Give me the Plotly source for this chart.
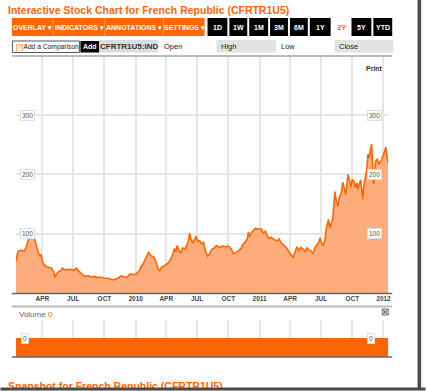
import plotly.graph_objects as go

W, H = 426, 391

# ---------------- data ----------------
dates = ['2009-01-13','2009-01-19','2009-01-27','2009-02-08','2009-02-14','2009-02-20','2009-03-01','2009-03-09',
 '2009-03-15','2009-03-24','2009-03-28','2009-04-02','2009-04-08','2009-04-14','2009-04-22','2009-04-28',
 '2009-05-04','2009-05-08','2009-05-13','2009-05-19','2009-05-25','2009-05-30','2009-06-05','2009-06-14',
 '2009-06-23','2009-07-02','2009-07-10','2009-07-19','2009-07-28','2009-08-06','2009-08-15','2009-08-23',
 '2009-09-01','2009-09-10','2009-09-19','2009-09-30','2009-10-12','2009-10-24','2009-11-02','2009-11-10',
 '2009-11-19','2009-11-28','2009-12-07','2009-12-15','2009-12-24','2010-01-02','2010-01-11','2010-01-17',
 '2010-01-22','2010-01-28','2010-02-03','2010-02-08','2010-02-12','2010-02-18','2010-02-24','2010-03-02',
 '2010-03-08','2010-03-13','2010-03-19','2010-03-25','2010-04-03','2010-04-09','2010-04-14','2010-04-20',
 '2010-04-25','2010-04-29','2010-05-03','2010-05-08','2010-05-14','2010-05-20','2010-05-26','2010-05-31',
 '2010-06-05','2010-06-09','2010-06-13','2010-06-18','2010-06-24','2010-06-28','2010-07-03','2010-07-08',
 '2010-07-14','2010-07-20','2010-07-26','2010-08-01','2010-08-07','2010-08-12','2010-08-18','2010-08-27',
 '2010-09-05','2010-09-14','2010-09-22','2010-10-01','2010-10-10','2010-10-16','2010-10-22','2010-10-31',
 '2010-11-08','2010-11-14','2010-11-20','2010-11-26','2010-11-29','2010-12-03','2010-12-08','2010-12-13',
 '2010-12-19','2010-12-28','2011-01-06','2011-01-12','2011-01-18','2011-01-24','2011-01-29','2011-02-04',
 '2011-02-13','2011-02-22','2011-02-28','2011-03-05','2011-03-14','2011-03-23','2011-03-29','2011-04-04',
 '2011-04-10','2011-04-16','2011-04-21','2011-04-27','2011-05-03','2011-05-09','2011-05-15','2011-05-21',
 '2011-05-27','2011-06-02','2011-06-08','2011-06-13','2011-06-19','2011-06-25','2011-06-28','2011-07-02',
 '2011-07-07','2011-07-13','2011-07-16','2011-07-20','2011-07-23','2011-07-27','2011-08-01','2011-08-05',
 '2011-08-08','2011-08-11','2011-08-15','2011-08-20','2011-08-23','2011-08-25','2011-08-30','2011-09-03',
 '2011-09-08','2011-09-12','2011-09-15','2011-09-18','2011-09-23','2011-09-27','2011-10-01','2011-10-06',
 '2011-10-10','2011-10-15','2011-10-17','2011-10-22','2011-10-26','2011-10-29','2011-11-01','2011-11-04',
 '2011-11-07','2011-11-10','2011-11-13','2011-11-16','2011-11-19','2011-11-23','2011-11-27','2011-11-30',
 '2011-12-03','2011-12-06','2011-12-09','2011-12-14','2011-12-18','2011-12-23','2011-12-27','2011-12-31',
 '2012-01-05','2012-01-08','2012-01-11','2012-01-13','2012-01-15']
prices = [53,70,72,71,80,93,94,92,
 78,62,65,51,47,44,43,42,
 36,27,32,36,38,42,39,40,
 40,38,42,36,31,28,29,27,
 28,26,27,25,25,22,24,25,
 29,27,27,32,31,32,37,45,
 48,55,62,69,64,62,60,52,
 40,38,44,45,49,52,57,65,
 75,70,80,72,68,76,74,82,
 87,101,90,84,92,96,87,88,
 83,85,70,62,66,73,75,80,
 77,79,78,79,74,66,68,71,
 76,83,86,92,103,95,102,106,
 109,108,108,101,104,96,92,94,
 90,88,91,85,80,75,69,64,
 60,70,78,72,77,74,70,76,
 72,71,66,76,82,86,93,85,
 80,90,107,118,124,110,120,126,
 150,171,155,146,158,162,170,187,
 176,166,180,200,190,178,192,188,
 178,186,175,185,191,175,158,180,
 191,195,210,234,228,240,251,215,
 183,205,222,226,217,222,225,232,
 240,246,232,222,220]

vol_dates = ['2009-01-13', '2012-01-15']
volume = [0, 0]
vol_floor = [-1, -1]

x_range = ['2009-01-13', '2012-01-15']
tick_vals = ['2009-04-01','2009-07-01','2009-10-01','2010-01-01','2010-04-01','2010-07-01',
             '2010-10-01','2011-01-01','2011-04-01','2011-07-01','2011-10-01','2012-01-01']
tick_text = ['APR','JUL','OCT','2010','APR','JUL','OCT','2011','APR','JUL','OCT','2012']
y_ticks = [100, 200, 300]

ORANGE = '#FF6600'
FILL = '#FDAC7B'
FONT = 'Liberation Sans'

def px(x): return x / W
def py(y): return 1 - y / H

shapes = []
annotations = []

def rect(x0, y0, x1, y1, fill, line=None, lw=0):
    shapes.append(dict(type='rect', xref='paper', yref='paper', x0=px(x0), x1=px(x1),
                       y0=py(y0), y1=py(y1), fillcolor=fill,
                       line=dict(color=line or fill, width=lw), layer='above'))

def line(x0, y0, x1, y1, color, w):
    shapes.append(dict(type='line', xref='paper', yref='paper', x0=px(x0), x1=px(x1),
                       y0=py(y0), y1=py(y1), line=dict(color=color, width=w), layer='above'))

def text(x, y, s, size, color, bold=False, xanchor='center', **kw):
    if bold:
        s = '<b>' + s + '</b>'
    annotations.append(dict(x=px(x), y=py(y), xref='paper', yref='paper', text=s, showarrow=False,
                            xanchor=xanchor, yanchor='middle',
                            font=dict(family=FONT, size=size, color=color), **kw))

# title
text(6, 10, 'Interactive Stock Chart for French Republic (CFRTR1U5)', 10.5, ORANGE, True, 'left')

# orange toolbar
rect(12, 18, 206, 36, ORANGE)
for sx in [53.5, 105.5, 164.5]:
    line(sx, 18, sx, 36, '#FF9A5C', 1)
for cx, lab in [(33, 'OVERLAY ▾'), (80, 'INDICATORS ▾'), (135, 'ANNOTATIONS ▾'), (185.5, 'SETTINGS ▾')]:
    text(cx, 27.5, lab, 7, 'white', True)

# range buttons
for x0, x1, lab in [(209, 229, '1D'), (231, 249, '1W'), (251, 270, '1M'), (272, 290, '3M'),
                    (292, 310, '6M'), (312, 333, '1Y'), (354, 374, '5Y'), (376, 395, 'YTD')]:
    rect(x0, 18, x1, 36, '#000000')
    text((x0 + x1) / 2, 27.5, lab, 7, 'white', True)
text(343.5, 27.5, '3Y', 7.5, ORANGE, True)

# second row
rect(12.5, 41, 80, 52.5, 'white', '#555555', 1)
text(14, 47, '<span style="color:#FF6600">[?]</span>Add a Comparison', 6.7, '#222222', False, 'left')
rect(81, 41, 100, 52.5, '#000000')
text(90.5, 47, 'Add', 7, 'white', True)
rect(100, 40, 159, 52.5, '#DCDCDC')
text(129.5, 46.5, 'CFRTR1U5:IND', 8, '#333333', True)
text(163, 46.5, 'Open', 7.5, '#222222', False, 'left')
rect(218, 40, 278, 52.5, '#E2E2E2')
text(221, 46.5, 'High', 7.5, '#222222', False, 'left')
text(281, 46.5, 'Low', 7.5, '#222222', False, 'left')
rect(337, 40, 396, 52.5, '#E2E2E2')
text(339, 46.5, 'Close', 7.5, '#222222', False, 'left')

# chart frame lines
line(12, 56, 395, 56, '#BBBBBB', 2)
line(12, 293.5, 395, 293.5, '#666666', 1.5)
line(12, 306.5, 395, 306.5, '#BBBBBB', 2)
line(12, 357, 395, 357, '#666666', 1.5)

text(377.5, 68, 'Print', 7, '#333333', True)

# y labels (boxed)
for v in y_ticks:
    for xx in [28, 377.5]:
        annotations.append(dict(x=px(xx), y=v, xref='paper', yref='y', text=str(v), showarrow=False,
                                xanchor='center', yanchor='middle',
                                font=dict(family=FONT, size=6.5, color='#555555'),
                                bgcolor='white', bordercolor='#DDDDDD', borderwidth=1, borderpad=1))
for xx in [24.7, 373.8]:
    annotations.append(dict(x=px(xx), y=volume[0], xref='paper', yref='y2', text=str(volume[0]),
                            showarrow=False, xanchor='center', yanchor='middle',
                            font=dict(family=FONT, size=6.5, color='#555555'),
                            bgcolor='white', bordercolor='#DDDDDD', borderwidth=1, borderpad=1))

# volume header
text(17, 314.5, 'Volume <span style="color:#FF6600">0</span>', 8, '#666666', False, 'left')
rect(385, 309, 391, 315, '#DDDDDD', '#777777', 1)
line(385.5, 309.5, 390.5, 314.5, '#555555', 1)
line(385.5, 314.5, 390.5, 309.5, '#555555', 1)

# snapshot text, cut by frame
text(6, 386, 'Snapshot for French Republic (CFRTR1U5)', 10.5, ORANGE, True, 'left')
annotations.append(dict(x=0, y=py(386.5), xref='paper', yref='paper', text=' ', showarrow=False,
                        xanchor='left', yanchor='top', width=424, height=4, bgcolor='#4A4A4A',
                        borderpad=0, font=dict(size=2)))
annotations.append(dict(x=0, y=py(390), xref='paper', yref='paper', text=' ', showarrow=False,
                        xanchor='left', yanchor='top', width=426, height=3, bgcolor='#F0F0F0',
                        borderpad=0, font=dict(size=2)))
rect(420.5, 0, 424, 390, '#4A4A4A')
rect(424, 0, 426, 391, '#F0F0F0')

fig = go.Figure()
fig.add_trace(go.Scatter(x=dates, y=prices, mode='lines', line=dict(color=ORANGE, width=1.6),
                         fill='tozeroy', fillcolor=FILL, xaxis='x', yaxis='y', hoverinfo='skip'))
fig.add_trace(go.Scatter(x=vol_dates, y=vol_floor, mode='lines', line=dict(width=0),
                         xaxis='x2', yaxis='y2', hoverinfo='skip'))
fig.add_trace(go.Scatter(x=vol_dates, y=volume, mode='lines', line=dict(color=ORANGE, width=1),
                         fill='tonexty', fillcolor=ORANGE, xaxis='x2', yaxis='y2', hoverinfo='skip'))

fig.update_layout(
    width=W, height=H, autosize=False, showlegend=False,
    margin=dict(l=0, r=0, t=0, b=0, pad=0),
    paper_bgcolor='white', plot_bgcolor='white',
    font=dict(family=FONT),
    xaxis=dict(domain=[px(16), px(391)], range=x_range, type='date', tickvals=tick_vals,
               ticktext=['<b>' + t + '</b>' for t in tick_text], showgrid=True, gridcolor='#E6E6E6',
               gridwidth=1.5, ticks='', showline=False, zeroline=False, anchor='y',
               tickfont=dict(family=FONT, size=6.5, color='#444444'), fixedrange=True),
    yaxis=dict(domain=[py(293), py(57)], range=[0, 398], tickvals=y_ticks, showticklabels=False,
               showgrid=True, gridcolor='#E6E6E6', gridwidth=2, zeroline=False, ticks='',
               anchor='x', fixedrange=True),
    xaxis2=dict(domain=[px(16), px(391)], range=x_range, type='date', tickvals=tick_vals,
                showticklabels=False, showgrid=True, gridcolor='#E6E6E6', gridwidth=1.5, ticks='',
                zeroline=False, anchor='y2', matches='x'),
    yaxis2=dict(domain=[py(357), py(320)], range=[-1, 1], showgrid=False, showticklabels=False,
                zeroline=False, ticks='', anchor='x2'),
    shapes=shapes, annotations=annotations,
)

fig.write_html('out.html', config={'displayModeBar': False},
               post_script="document.body.style.margin='0';document.body.style.overflow='hidden';")
